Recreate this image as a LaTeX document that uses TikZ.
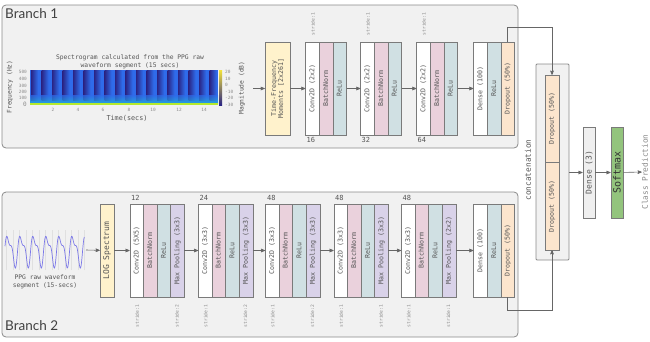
\documentclass[tikz,border=0pt]{standalone}
\usepackage{fontspec}
\setmainfont{Lato}
\newfontfamily\monofont{DejaVu Sans Mono}
\usetikzlibrary{calc,shapes.multipart,arrows,positioning}
\definecolor{branchFill}{HTML}{F1F1F1}
\definecolor{branchLine}{HTML}{8A8A8A}
\definecolor{boxLine}{HTML}{7A7A7A}
\definecolor{boxText}{HTML}{555555}
\definecolor{bnPink}{HTML}{EAD1DC}
\definecolor{reluBlue}{HTML}{D0E0E3}
\definecolor{poolPurple}{HTML}{D9D2E9}
\definecolor{dropPeach}{HTML}{FCE5CD}
\definecolor{prepYellow}{HTML}{FFF2CC}
\definecolor{denseGray}{HTML}{EFEFEF}
\definecolor{softGreen}{HTML}{93C47D}
\definecolor{lineGray}{HTML}{666666}
\definecolor{noteGray}{HTML}{8A8A8A}
\definecolor{specBlue}{HTML}{2F6BEA}
\definecolor{specDark}{HTML}{2A2484}
\definecolor{specCyan}{HTML}{22B4D6}
\definecolor{specYellow}{HTML}{F3E33A}
\definecolor{waveBlue}{HTML}{7B78E8}
\newcommand{\prt}[1]{\rule[-4.6pt]{0pt}{13.2pt}#1}
\tikzset{
myBranch/.style={
	draw=branchLine,fill=branchFill,line width=0.8pt,
	rounded corners=4pt,inner sep=0pt
}
, myConcat/.style={
	draw=branchLine,fill=branchFill,line width=0.8pt,
	rounded corners=1pt,inner sep=0pt
}
, myTitle/.style={anchor=west,inner sep=0pt,text=black!75,font=\fontsize{13.5}{16}\selectfont}
% layers
, myBlock/.style={
	rectangle split,
	rectangle split parts=#1, draw=boxLine,
	rotate=90, minimum width=93pt,
	inner sep=0pt, text=boxText,
	font=\monofont\fontsize{6.6}{7}\selectfont
}
, mySingle/.style={
	rectangle,draw=boxLine,rotate=90,
	minimum width=93pt,minimum height=13.2pt,
	inner sep=0pt,text=boxText,
	font=\monofont\fontsize{6.6}{7}\selectfont
}
% labels
, myStride/.style={rotate=90,inner sep=0pt,text=noteGray,font=\monofont\fontsize{4.6}{5}\selectfont}
, myNum/.style={anchor=west,inner sep=0pt,text=boxText,font=\monofont\fontsize{7}{8}\selectfont}
, myNote/.style={inner sep=0pt,text=boxText,align=center,font=\monofont\fontsize{6.3}{7.6}\selectfont}
, myTick/.style={inner sep=0pt,text=noteGray,font=\monofont\fontsize{4.4}{5}\selectfont}
% links
, myArrow/.style={->,>=stealth',draw=lineGray,line width=0.6pt}
, myLink/.style={->,>=stealth',draw=lineGray,line width=0.6pt}
, myGrid/.style={draw=black!12,line width=0.3pt}
, myWave/.style={draw=waveBlue,line width=0.7pt}
}

\begin{document}
\begin{tikzpicture}[x=1pt,y=-1pt]
	\useasboundingbox (0,0) rectangle (650,341);
	% branches
	\node[myBranch,minimum width=516pt,minimum height=143pt] (Branch1) at (260,76.5) {};
	\node[myBranch,minimum width=516pt,minimum height=145pt] (Branch2) at (260,264.5) {};
	\node[myTitle] (Title1) at (5,14) {Branch 1};
	\node[myTitle] (Title2) at (5,325.5) {Branch 2};

	% spectrogram
	\fill[specBlue] (30,70) rectangle (218,105);
	\foreach \k in {0,...,17}
		\shade[left color=specDark,right color=specBlue] ({31+10.5*\k},70) rectangle ++(7,30);
	\shade[top color=specBlue,bottom color=specCyan,opacity=.7] (30,95) rectangle (218,103);
	\fill[specYellow!75!green] (30,103) rectangle (218,105);
	\shade[top color=specYellow,middle color=specCyan,bottom color=specDark] (219,70) rectangle (222,105);
	\node[myNote] (SpecTitle) at (130,62) {Spectrogram calculated from the PPG raw\\waveform segment (15 secs)};
	\node[myNote,rotate=90] (FreqLbl) at (10,87) {Frequency (Hz)};
	\node[myNote,rotate=90] (MagLbl) at (242,88) {Magnitude (dB)};
	\node[myNote,font=\monofont\fontsize{6.8}{8}\selectfont] (TimeLbl) at (127,118) {Time(secs)};
	\node[myTick,anchor=east] at (27,72) {500};
	\node[myTick,anchor=east] at (27,79) {400};
	\node[myTick,anchor=east] at (27,86) {300};
	\node[myTick,anchor=east] at (27,92) {200};
	\node[myTick,anchor=east] at (27,98) {100};
	\node[myTick,anchor=east,font=\monofont\fontsize{6}{7}\selectfont] at (27,104) {0};
	\node[myTick] at (53,110) {2};
	\node[myTick] at (78,110) {4};
	\node[myTick] at (103,110) {6};
	\node[myTick] at (129,110) {8};
	\node[myTick] at (153,110) {10};
	\node[myTick] at (179,110) {12};
	\node[myTick] at (204,110) {14};
	\node[myTick,anchor=west] at (225,72) {20};
	\node[myTick,anchor=west] at (225,78.5) {10};
	\node[myTick,anchor=west] at (225,85) {0};
	\node[myTick,anchor=west] at (225,91.5) {-10};
	\node[myTick,anchor=west] at (225,98) {-20};
	\node[myTick,anchor=west] at (225,104.5) {-30};
	\coordinate (SpecOut) at (253,88.5);

	% waveform
	\draw[myGrid] (5,230) grid[xstep=6.5,ystep=6.5] (85,270);
	\draw[myWave] plot[domain=0:6.1,samples=200,smooth] ({5+13*\x},{250-13*(sin(360*\x)+0.45*sin(720*\x+40))});
	\node[myNote] (WaveLbl) at (45,281.5) {PPG raw waveform\\segment (15-secs)};
	\coordinate (WaveOut) at (86,250);

	% nodes, branch 1
	\node[mySingle,fill=prepYellow,minimum height=25pt,align=center] (TFM) at (277.5,88.5) {Time-Frequency\\Moments [2x261]};
	\node[myBlock=3,rectangle split part fill={white,bnPink,reluBlue}] (Conv1) at (326,88.5)
		{\prt{Conv2D (2x2)}\nodepart{two}\prt{BatchNorm}\nodepart{three}\prt{ReLu}};
	\node[myBlock=3,rectangle split part fill={white,bnPink,reluBlue}] (Conv2) at (381,88.5)
		{\prt{Conv2D (2x2)}\nodepart{two}\prt{BatchNorm}\nodepart{three}\prt{ReLu}};
	\node[myBlock=3,rectangle split part fill={white,bnPink,reluBlue}] (Conv3) at (437,88.5)
		{\prt{Conv2D (2x2)}\nodepart{two}\prt{BatchNorm}\nodepart{three}\prt{ReLu}};
	\node[myBlock=3,rectangle split part fill={white,reluBlue,dropPeach}] (Dense1) at (494,88.5)
		{\prt{Dense (100)}\nodepart{two}\prt{ReLu}\nodepart{three}\prt{Dropout (50\%)}};
	\node[myNum] at (306.5,140) {16};
	\node[myNum] at (361.5,140) {32};
	\node[myNum] at (417.5,140) {64};
	\node[myStride] at (312.8,24) {stride:1};
	\node[myStride] at (367.8,24) {stride:1};
	\node[myStride] at (423.8,24) {stride:1};

	% nodes, branch 2
	\node[mySingle,fill=prepYellow,minimum height=14pt,font=\monofont\fontsize{8}{9}\selectfont] (LogSpec) at (107,250.5) {LOG Spectrum};
	\node[myBlock=4,rectangle split part fill={white,bnPink,reluBlue,poolPurple}] (Blk1) at (157,250.5)
		{\prt{Conv2D (5X5)}\nodepart{two}\prt{BatchNorm}\nodepart{three}\prt{ReLu}\nodepart{four}\prt{Max Pooling (3x3)}};
	\node[myBlock=4,rectangle split part fill={white,bnPink,reluBlue,poolPurple}] (Blk2) at (225.5,250.5)
		{\prt{Conv2D (3x3)}\nodepart{two}\prt{BatchNorm}\nodepart{three}\prt{ReLu}\nodepart{four}\prt{Max Pooling (3x3)}};
	\node[myBlock=4,rectangle split part fill={white,bnPink,reluBlue,poolPurple}] (Blk3) at (292.5,250.5)
		{\prt{Conv2D (3x3)}\nodepart{two}\prt{BatchNorm}\nodepart{three}\prt{ReLu}\nodepart{four}\prt{Max Pooling (3x3)}};
	\node[myBlock=4,rectangle split part fill={white,bnPink,reluBlue,poolPurple}] (Blk4) at (361,250.5)
		{\prt{Conv2D (3x3)}\nodepart{two}\prt{BatchNorm}\nodepart{three}\prt{ReLu}\nodepart{four}\prt{Max Pooling (3x3)}};
	\node[myBlock=4,rectangle split part fill={white,bnPink,reluBlue,poolPurple}] (Blk5) at (428.5,250.5)
		{\prt{Conv2D (3x3)}\nodepart{two}\prt{BatchNorm}\nodepart{three}\prt{ReLu}\nodepart{four}\prt{Max Pooling (2x2)}};
	\node[myBlock=3,rectangle split part fill={white,reluBlue,dropPeach}] (Dense2) at (494,250.5)
		{\prt{Dense (100)}\nodepart{two}\prt{ReLu}\nodepart{three}\prt{Dropout (50\%)}};
	\node[myNum] at (131,198) {12};
	\node[myNum] at (199.5,198) {24};
	\node[myNum] at (267,198) {48};
	\node[myNum] at (335,198) {48};
	\node[myNum] at (402.5,198) {48};
	\node[myStride] at (137.2,316) {stride:1};
	\node[myStride] at (176.8,316) {stride:2};
	\node[myStride] at (205.7,316) {stride:1};
	\node[myStride] at (245.3,316) {stride:2};
	\node[myStride] at (272.7,316) {stride:1};
	\node[myStride] at (312.3,316) {stride:2};
	\node[myStride] at (341.2,316) {stride:1};
	\node[myStride] at (380.8,316) {stride:1};
	\node[myStride] at (408.7,316) {stride:1};
	\node[myStride] at (448.3,316) {stride:1};

	% head
	\node[myConcat,minimum width=33pt,minimum height=196pt] (Concat) at (552.5,162) {};
	\node[mySingle,fill=dropPeach,minimum width=87.5pt,minimum height=14pt] (DropA) at (552,118.75) {Dropout (50\%)};
	\node[mySingle,fill=dropPeach,minimum width=87.5pt,minimum height=14pt] (DropB) at (552,206.25) {Dropout (50\%)};
	\node[myNote,rotate=90,font=\monofont\fontsize{7.8}{9}\selectfont] (ConcatLbl) at (528,170) {concatenation};
	\node[mySingle,fill=denseGray,minimum width=91pt,minimum height=12.5pt,font=\monofont\fontsize{8}{9}\selectfont] (Dense3) at (589,172.5) {Dense (3)};
	\node[mySingle,fill=softGreen,minimum width=91pt,minimum height=12.5pt,text=black!80,font=\monofont\fontsize{10}{11}\selectfont] (Softmax) at (617,172.5) {Softmax};
	\node[myNote,rotate=90,text=noteGray,font=\monofont\fontsize{7.8}{9}\selectfont] (Class) at (645,172) {Class Prediction};

	% links
	\draw [myArrow] (SpecOut) -- (TFM);
	\draw [myArrow] (TFM) -- (Conv1);
	\draw [myArrow] (Conv1) -- (Conv2);
	\draw [myArrow] (Conv2) -- (Conv3);
	\draw [myArrow] (Conv3) -- (Dense1);
	\draw [myArrow] (WaveOut) -- (LogSpec);
	\draw [myArrow] (LogSpec) -- (Blk1);
	\draw [myArrow] (Blk1) -- (Blk2);
	\draw [myArrow] (Blk2) -- (Blk3);
	\draw [myArrow] (Blk3) -- (Blk4);
	\draw [myArrow] (Blk4) -- (Blk5);
	\draw [myArrow] (Blk5) -- (Dense2);
	\draw [myLink] ($(Dense1.two split east)!.5!(Dense1.south east)$) -- ++(0,-15) -| (DropA.east);
	\draw [myLink] ($(Dense2.two split west)!.5!(Dense2.south west)$) -- ++(0,13) -| (DropB.west);
	\draw [myArrow] (Concat.east |- Dense3) -- (Dense3);
	\draw [myArrow] (Dense3) -- (Softmax);
	\draw [myArrow] (Softmax) -- (Class);
\end{tikzpicture}
\end{document}
